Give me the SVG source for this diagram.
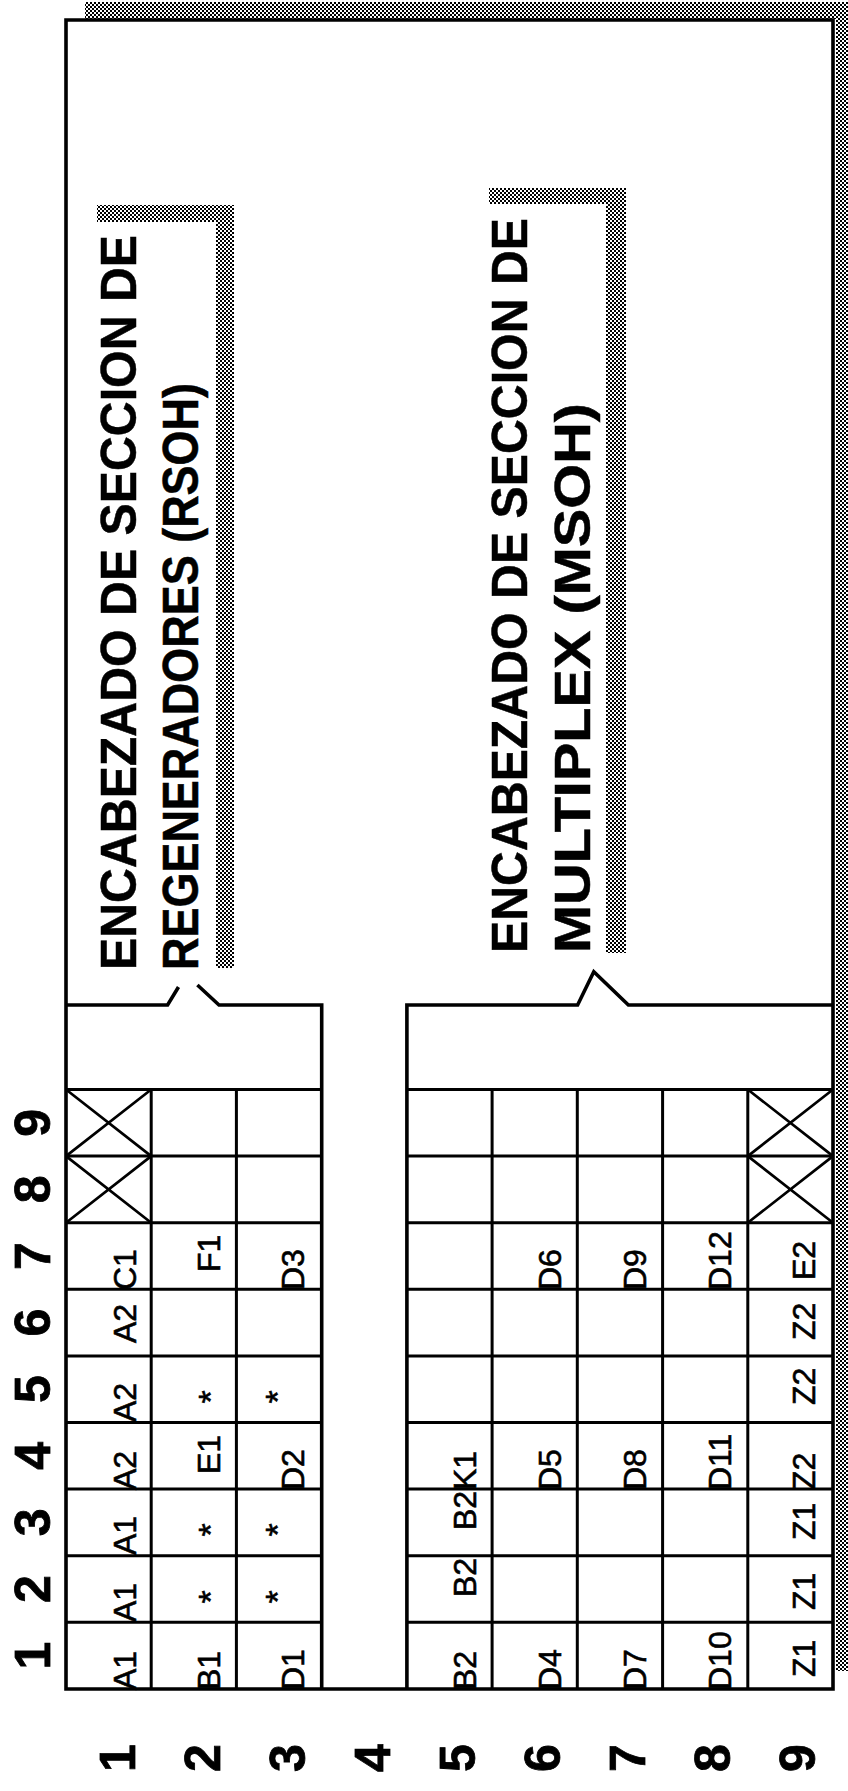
<svg xmlns="http://www.w3.org/2000/svg" width="848" height="1791" viewBox="0 0 848 1791">
<defs>
<pattern id="dither" width="4" height="4" patternUnits="userSpaceOnUse">
<rect width="4" height="4" fill="#ffffff"/>
<rect width="2" height="2" fill="#000000"/>
<rect x="2" y="2" width="2" height="2" fill="#000000"/>
</pattern>
</defs>
<style>
.frame{fill:none;stroke:#000;stroke-width:3.6;stroke-linejoin:miter}
.grid{fill:none;stroke:#000;stroke-width:3}
.xl{fill:none;stroke:#000;stroke-width:2.7}
.sh{fill:url(#dither)}
.c{font-family:"Liberation Sans",Arial,sans-serif;font-size:32px;fill:#000;stroke:#000;stroke-width:0.6}
.ax{font-family:"Liberation Sans",Arial,sans-serif;font-size:50px;font-weight:bold;fill:#000;stroke:#000;stroke-width:0.8;text-anchor:middle}
.cap{font-family:"Liberation Sans",Arial,sans-serif;font-size:50px;font-weight:bold;fill:#000;stroke:#000;stroke-width:0.5}
.st{font-family:"Liberation Sans",Arial,sans-serif;font-size:34px;fill:#000;stroke:#000;stroke-width:0.6;text-anchor:middle}
</style>
<rect width="848" height="1791" fill="#ffffff"/>

<g id="shadow">
<rect class="sh" x="85" y="2" width="763" height="17"/>
<rect class="sh" x="836" y="2" width="12" height="1669"/>
</g>

<g id="frame">
<path class="frame" d="M66,1689 V20 H833 V1689 Z"/>
</g>

<g id="rsoh-callout">
<rect class="sh" x="97" y="205" width="137" height="17"/>
<rect class="sh" x="216" y="205" width="18" height="763"/>
<text class="cap" transform="translate(136,970) rotate(-90)" textLength="735" lengthAdjust="spacingAndGlyphs">ENCABEZADO DE SECCION DE</text>
<text class="cap" transform="translate(198,970) rotate(-90)" textLength="587" lengthAdjust="spacingAndGlyphs">REGENERADORES (RSOH)</text>
</g>

<g id="msoh-callout">
<rect class="sh" x="489" y="188" width="137" height="16"/>
<rect class="sh" x="606" y="188" width="20" height="765"/>
<text class="cap" transform="translate(527,953) rotate(-90)" textLength="735" lengthAdjust="spacingAndGlyphs">ENCABEZADO DE SECCION DE</text>
<text class="cap" transform="translate(590,953) rotate(-90)" textLength="550" lengthAdjust="spacingAndGlyphs">MULTIPLEX (MSOH)</text>
</g>

<g id="connectors">
<path class="frame" d="M66,1005 H167.6 L178.5,987"/>
<path class="frame" d="M197.4,985 L219,1005 H321.7 V1689"/>
<path class="frame" d="M406.9,1689 V1005 H577.6 L593.8,971.7 L628.4,1005 H833"/>
</g>

<g id="rsoh-block">
<path class="grid" d="M66,1089.5 H321.7 M66,1156.1 H321.7 M66,1222.7 H321.7 M66,1289.3 H321.7 M66,1355.9 H321.7 M66,1422.5 H321.7 M66,1489.1 H321.7 M66,1555.7 H321.7 M66,1622.3 H321.7 M151.2,1089.5 V1689 M236.4,1089.5 V1689"/>
<path class="xl" d="M66,1089.5 L151.2,1156.1 M151.2,1089.5 L66,1156.1 M66,1156.1 L151.2,1222.7 M151.2,1156.1 L66,1222.7"/>
<text class="c" transform="translate(136,1690) rotate(-90)">A1</text>
<text class="c" transform="translate(136,1622) rotate(-90)">A1</text>
<text class="c" transform="translate(136,1555) rotate(-90)">A1</text>
<text class="c" transform="translate(136,1490) rotate(-90)">A2</text>
<text class="c" transform="translate(136,1422) rotate(-90)">A2</text>
<text class="c" transform="translate(136,1343) rotate(-90)">A2</text>
<text class="c" transform="translate(136,1290) rotate(-90)">C1</text>
<text class="c" transform="translate(219.5,1690) rotate(-90)">B1</text>
<text class="st" transform="translate(222,1597) rotate(-90)">*</text>
<text class="st" transform="translate(222,1530) rotate(-90)">*</text>
<text class="c" transform="translate(219.5,1474) rotate(-90)">E1</text>
<text class="st" transform="translate(222,1397) rotate(-90)">*</text>
<text class="c" transform="translate(219.5,1272) rotate(-90)">F1</text>
<text class="c" transform="translate(303.5,1690) rotate(-90)">D1</text>
<text class="st" transform="translate(289,1597) rotate(-90)">*</text>
<text class="st" transform="translate(289,1530) rotate(-90)">*</text>
<text class="c" transform="translate(303.5,1490) rotate(-90)">D2</text>
<text class="st" transform="translate(289,1397) rotate(-90)">*</text>
<text class="c" transform="translate(303.5,1290) rotate(-90)">D3</text>
</g>

<g id="msoh-block">
<path class="grid" d="M406.9,1089.5 H833 M406.9,1156.1 H833 M406.9,1222.7 H833 M406.9,1289.3 H833 M406.9,1355.9 H833 M406.9,1422.5 H833 M406.9,1489.1 H833 M406.9,1555.7 H833 M406.9,1622.3 H833 M492.1,1089.5 V1689 M577.3,1089.5 V1689 M662.6,1089.5 V1689 M747.8,1089.5 V1689"/>
<path class="xl" d="M747.8,1089.5 L833,1156.1 M833,1089.5 L747.8,1156.1 M747.8,1156.1 L833,1222.7 M833,1156.1 L747.8,1222.7"/>
<text class="c" transform="translate(476,1690) rotate(-90)">B2</text>
<text class="c" transform="translate(476,1597) rotate(-90)">B2</text>
<text class="c" transform="translate(476,1530) rotate(-90)">B2</text>
<text class="c" transform="translate(476,1490) rotate(-90)">K1</text>
<text class="c" transform="translate(560.5,1690) rotate(-90)">D4</text>
<text class="c" transform="translate(560.5,1490) rotate(-90)">D5</text>
<text class="c" transform="translate(560.5,1290) rotate(-90)">D6</text>
<text class="c" transform="translate(646,1690) rotate(-90)">D7</text>
<text class="c" transform="translate(646,1490) rotate(-90)">D8</text>
<text class="c" transform="translate(646,1290) rotate(-90)">D9</text>
<text class="c" transform="translate(730.5,1690) rotate(-90)">D10</text>
<text class="c" transform="translate(730.5,1490) rotate(-90)">D11</text>
<text class="c" transform="translate(730.5,1290) rotate(-90)">D12</text>
<text class="c" transform="translate(814.5,1677) rotate(-90)">Z1</text>
<text class="c" transform="translate(814.5,1610) rotate(-90)">Z1</text>
<text class="c" transform="translate(814.5,1540) rotate(-90)">Z1</text>
<text class="c" transform="translate(814.5,1490) rotate(-90)">Z2</text>
<text class="c" transform="translate(814.5,1405) rotate(-90)">Z2</text>
<text class="c" transform="translate(814.5,1340) rotate(-90)">Z2</text>
<text class="c" transform="translate(814.5,1280) rotate(-90)">E2</text>
</g>

<g id="column-labels">
<text class="ax" transform="translate(50,1655.6) rotate(-90)">1</text>
<text class="ax" transform="translate(50,1589) rotate(-90)">2</text>
<text class="ax" transform="translate(50,1522.4) rotate(-90)">3</text>
<text class="ax" transform="translate(50,1455.8) rotate(-90)">4</text>
<text class="ax" transform="translate(50,1389.2) rotate(-90)">5</text>
<text class="ax" transform="translate(50,1322.6) rotate(-90)">6</text>
<text class="ax" transform="translate(50,1256) rotate(-90)">7</text>
<text class="ax" transform="translate(50,1189.4) rotate(-90)">8</text>
<text class="ax" transform="translate(50,1122.8) rotate(-90)">9</text>
</g>

<g id="row-labels">
<text class="ax" transform="translate(135,1758) rotate(-90)">1</text>
<text class="ax" transform="translate(220,1758) rotate(-90)">2</text>
<text class="ax" transform="translate(305,1758) rotate(-90)">3</text>
<text class="ax" transform="translate(390,1758) rotate(-90)">4</text>
<text class="ax" transform="translate(475,1758) rotate(-90)">5</text>
<text class="ax" transform="translate(560,1758) rotate(-90)">6</text>
<text class="ax" transform="translate(645,1758) rotate(-90)">7</text>
<text class="ax" transform="translate(730,1758) rotate(-90)">8</text>
<text class="ax" transform="translate(815,1758) rotate(-90)">9</text>
</g>
</svg>
